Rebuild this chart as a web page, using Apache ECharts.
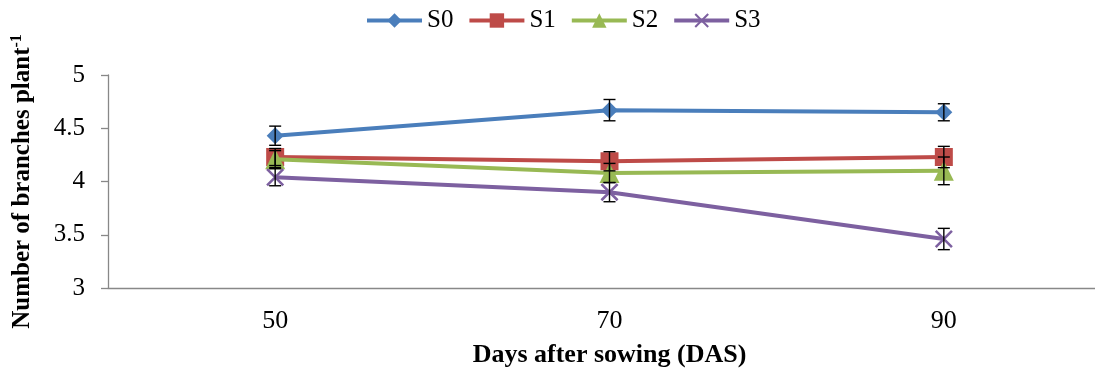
<!DOCTYPE html>
<html>
<head>
<meta charset="utf-8">
<script src="https://cdn.jsdelivr.net/npm/echarts@6/dist/echarts.min.js"></script>
<style>
  html, body { margin: 0; padding: 0; background: #fff; overflow: hidden; }
  #chart { width: 1095px; height: 370px; }
</style>
</head>
<body>
<div id="chart"></div>
<script>
// Days after sowing
const days = ['50', '70', '90'];
const yTicks = [3, 3.5, 4, 4.5, 5];

// Mean number of branches per plant for each treatment
const s0 = [4.43, 4.67, 4.65];
const s1 = [4.23, 4.19, 4.23];
const s2 = [4.21, 4.08, 4.10];
const s3 = [4.04, 3.90, 3.46];

// Standard errors
const s0Err = [0.09, 0.10, 0.08];
const s1Err = [0.08, 0.09, 0.10];
const s2Err = [0.08, 0.09, 0.13];
const s3Err = [0.08, 0.09, 0.10];

const names = ['S0', 'S1', 'S2', 'S3'];
const colors = ['#4a7ebb', '#be4b48', '#98b954', '#7d60a0'];
const values = [s0, s1, s2, s3];
const errors = [s0Err, s1Err, s2Err, s3Err];
const crossPath = 'path://M0,1L1,0L10,9L9,10Z M9,0L10,1L1,10L0,9Z';
const symbols = ['diamond', 'rect', 'triangle', crossPath];
const symbolSizes = [17, 18, 20, 18];

const chart = echarts.init(document.getElementById('chart'));
const serif = '"Liberation Serif", "DejaVu Serif", serif';

const lineSeries = values.map((v, i) => ({
  name: names[i],
  type: 'line',
  data: v,
  symbol: symbols[i],
  symbolSize: symbolSizes[i],
  showAllSymbol: true,
  lineStyle: { color: colors[i], width: 4 },
  itemStyle: { color: colors[i] },
  z: 2 + i,
  animation: false
}));

const errorSeries = values.map((v, i) => ({
  type: 'custom',
  name: names[i] + ' error',
  data: v.map((m, k) => [k, m - errors[i][k], m + errors[i][k]]),
  renderItem: function (params, api) {
    const x = api.value(0);
    const lo = api.coord([x, api.value(1)]);
    const hi = api.coord([x, api.value(2)]);
    const half = 6;
    const style = { stroke: '#000', lineWidth: 1.4 };
    return {
      type: 'group',
      children: [
        { type: 'line', shape: { x1: lo[0], y1: lo[1], x2: hi[0], y2: hi[1] }, style },
        { type: 'line', shape: { x1: lo[0] - half, y1: lo[1], x2: lo[0] + half, y2: lo[1] }, style },
        { type: 'line', shape: { x1: hi[0] - half, y1: hi[1], x2: hi[0] + half, y2: hi[1] }, style }
      ]
    };
  },
  z: 10,
  silent: true,
  animation: false
}));

chart.setOption({
  backgroundColor: '#fff',
  animation: false,
  legend: {
    data: names,
    top: 3,
    left: 360,
    itemWidth: 55,
    itemHeight: 18,
    itemGap: 14,
    lineStyle: { width: 4 },
    textStyle: { fontFamily: serif, fontSize: 25, color: '#000' }
  },
  grid: { left: 108, right: -16, top: 75, bottom: 82, outerBoundsMode: 'none', containLabel: false },
  xAxis: {
    type: 'category',
    data: days,
    boundaryGap: true,
    name: 'Days after sowing (DAS)',
    nameLocation: 'middle',
    nameGap: 54,
    nameTextStyle: { fontFamily: serif, fontSize: 26, fontWeight: 'bold', color: '#000' },
    axisLine: { lineStyle: { color: '#888', width: 1.3 } },
    axisTick: { interval: 0, length: 7, lineStyle: { color: '#888', width: 1.3 } },
    axisLabel: { fontFamily: serif, fontSize: 26, color: '#000', margin: 20 },
    splitLine: { show: false }
  },
  yAxis: {
    type: 'value',
    min: yTicks[0],
    max: yTicks[yTicks.length - 1],
    interval: 0.5,
    name: '{a|Number of branches plant}{b|-1}',
    nameLocation: 'middle',
    nameGap: 71,
    nameTextStyle: {
      rich: {
        a: { fontFamily: serif, fontSize: 25, fontWeight: 'bold', color: '#000' },
        b: { fontFamily: serif, fontSize: 16, fontWeight: 'bold', color: '#000', verticalAlign: 'top', padding: [0, 0, 12, 0] }
      }
    },
    axisLine: { show: true, lineStyle: { color: '#888', width: 1.3 } },
    axisTick: { show: true, length: 7, lineStyle: { color: '#888', width: 1.3 } },
    axisLabel: { fontFamily: serif, fontSize: 25, color: '#000', margin: 23 },
    splitLine: { show: false }
  },
  series: lineSeries.concat(errorSeries)
});
</script>
</body>
</html>
